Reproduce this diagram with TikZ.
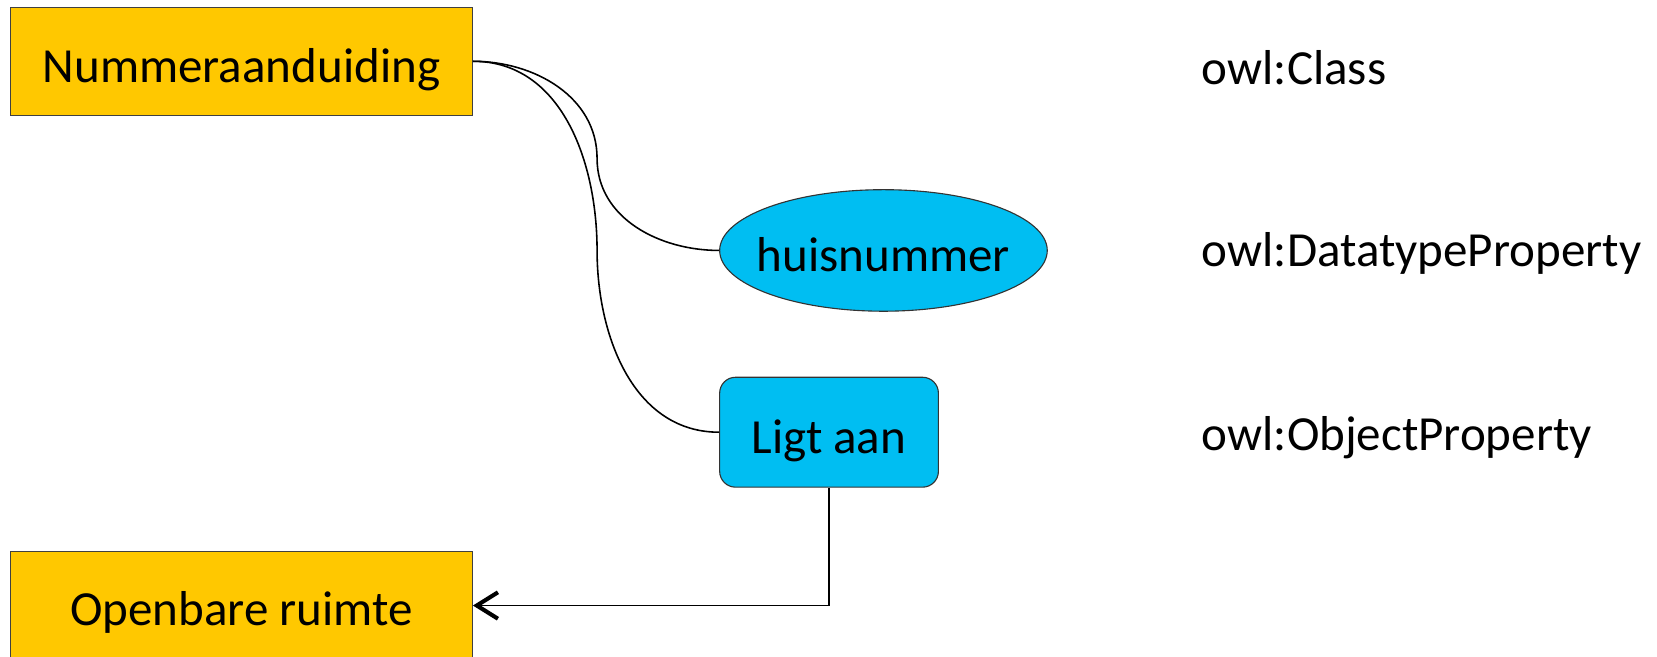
\documentclass[tikz,border=0pt]{standalone}
\usepackage{fontspec}
\setmainfont{Carlito}
\usetikzlibrary{
		arrows.meta,
		shapes.geometric,
		positioning
	}
\definecolor{classgold}{RGB}{255,200,0}
\definecolor{propblue}{RGB}{0,190,242}
\tikzset{
		>={Straight Barb[length=4mm,width=5mm,line width=2.2pt]},
		classbox/.style={draw=black!75, fill=classgold, line width=0.6pt,
			minimum width=8.74cm, minimum height=2.04cm, inner sep=0pt,
			text height=27pt, text depth=4.5pt},
		dataprop/.style={ellipse, draw=black!80, fill=propblue, line width=0.6pt,
			minimum width=6.2cm, minimum height=2.3cm, inner ysep=0pt, inner xsep=-0.3cm,
			text height=27pt, text depth=4.5pt},
		objprop/.style={rounded corners=0.3cm, draw=black!80, fill=propblue, line width=0.6pt,
			minimum width=4.14cm, minimum height=2.08cm, inner sep=0pt,
			text height=27pt, text depth=4.5pt},
		legend/.style={anchor=west, inner sep=0pt},
		link/.style={line width=0.85pt}
	}

\begin{document}
\begin{tikzpicture}[font=\fontsize{26.4}{32}\selectfont]
    \useasboundingbox (0,0.704) rectangle (31.36,13.12);

    % the classes
    \node[classbox] (num) at (4.57,11.96) {Nummeraanduiding};
    \node[classbox, anchor=north, minimum height=0pt, text height=1.4cm, text depth=1.9cm]
        (open) at (4.57,2.7) {Openbare ruimte};

    % the properties
    \node[dataprop] (huis) at (16.72,8.38) {huisnummer};
    \node[objprop] (lig) at (15.69,4.94) {Ligt aan};

    % the legend on the right
    \node[legend] (lclass) at (22.74,11.84) {owl:Class};
    \node[legend] (ldata) at (22.74,8.32) {owl:DatatypeProperty};
    \node[legend] (lobj) at (22.74,4.84) {owl:ObjectProperty};

    % domain links
    \draw[link] (num.east) to[out=0,in=90] (11.3,10.12) to[out=-90,in=180] (huis.west);
    \draw[link] (num.east) to[out=0,in=90] (11.3,8.38) to[out=-90,in=180] (lig.west);

    % range link
    \draw[link,->] (lig.south) |- ([yshift=-1.04cm]open.north east);

\end{tikzpicture}
\end{document}
